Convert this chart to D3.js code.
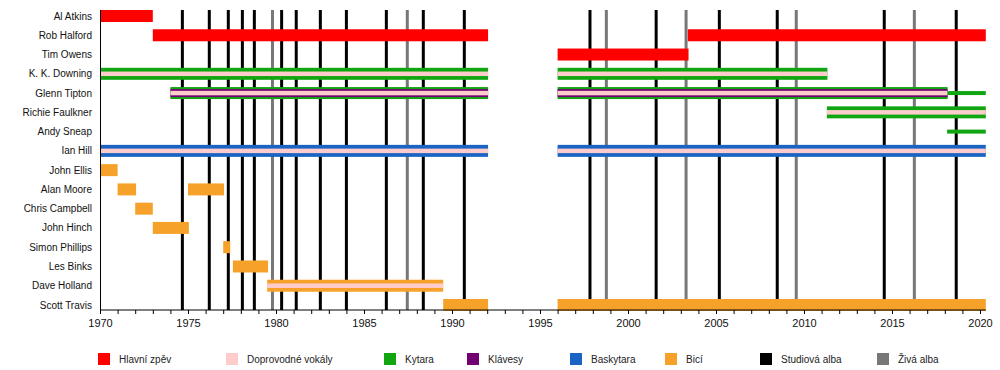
<!DOCTYPE html>
<html>
<head>
<meta charset="utf-8">
<script src="https://cdn.jsdelivr.net/npm/d3@7"></script>
<style>
  body { margin: 0; background: #fff; }
  svg { display: block; font-family: "Liberation Sans", Arial, sans-serif; }
</style>
</head>
<body>
<svg id="chart" width="1000" height="370"></svg>
<script>
// členové kapely (pořadí řádků)
var members = ["Al Atkins", "Rob Halford", "Tim Owens", "K. K. Downing", "Glenn Tipton",
  "Richie Faulkner", "Andy Sneap", "Ian Hill", "John Ellis", "Alan Moore", "Chris Campbell",
  "John Hinch", "Simon Phillips", "Les Binks", "Dave Holland", "Scott Travis"];

// hlavní pruhy: [člen, od, do, role]
var mainBars = [
  ["Al Atkins", 1970, 1973, "vox"],
  ["Rob Halford", 1973, 1992.05, "vox"],
  ["Rob Halford", 2003.4, 2020.33, "vox"],
  ["Tim Owens", 1996, 2003.44, "vox"],
  ["K. K. Downing", 1970, 1992.05, "gtr"],
  ["K. K. Downing", 1996, 2011.33, "gtr"],
  ["Glenn Tipton", 1974, 1992.05, "gtr"],
  ["Glenn Tipton", 1996, 2018.16, "gtr"],
  ["Richie Faulkner", 2011.3, 2020.33, "gtr"],
  ["Ian Hill", 1970, 1992.05, "bass"],
  ["Ian Hill", 1996, 2020.33, "bass"],
  ["John Ellis", 1970, 1971, "drums"],
  ["Alan Moore", 1971, 1972.05, "drums"],
  ["Alan Moore", 1975, 1977.05, "drums"],
  ["Chris Campbell", 1972, 1973, "drums"],
  ["John Hinch", 1973, 1975.05, "drums"],
  ["Simon Phillips", 1977, 1977.4, "drums"],
  ["Les Binks", 1977.55, 1979.55, "drums"],
  ["Dave Holland", 1979.5, 1989.5, "drums"],
  ["Scott Travis", 1989.5, 1992.05, "drums"],
  ["Scott Travis", 1996, 2020.33, "drums"]
];

// klávesy
var keyBars = [
  ["Glenn Tipton", 1974, 1992.05],
  ["Glenn Tipton", 1996, 2018.16]
];

// doprovodné vokály
var bvocBars = [
  ["K. K. Downing", 1970, 1992.05],
  ["K. K. Downing", 1996, 2011.33],
  ["Glenn Tipton", 1974, 1992.05],
  ["Glenn Tipton", 1996, 2018.16],
  ["Richie Faulkner", 2011.3, 2020.33],
  ["Ian Hill", 1970, 1992.05],
  ["Ian Hill", 1996, 2020.33],
  ["Dave Holland", 1979.5, 1989.5]
];

// tenké pruhy
var thinBars = [
  ["Glenn Tipton", 2018.16, 2020.33, "gtr"],
  ["Andy Sneap", 2018.13, 2020.33, "gtr"]
];

var studioAlbums = [1974.68, 1976.21, 1977.29, 1978.09, 1978.77, 1980.32, 1981.15, 1982.52,
  1984.0, 1986.27, 1988.37, 1990.7, 1997.84, 2001.6, 2005.19, 2008.48, 2014.56, 2018.65];
var liveAlbums = [1979.8, 1987.46, 1998.77, 2003.3, 2009.56, 2016.27];

var legendRoles = ["vox", "bvoc", "gtr", "keys", "bass", "drums", "studio", "live"];
var legendLabels = ["Hlavní zpěv", "Doprovodné vokály", "Kytara", "Klávesy", "Baskytara",
  "Bicí", "Studiová alba", "Živá alba"];
var legendX = [98, 226, 384, 467, 570, 665, 760, 877];

var COLORS = {
  vox: "#ff0000", bvoc: "#ffcccc", gtr: "#11a611", keys: "#730073",
  bass: "#1a64c4", drums: "#f6a22a", studio: "#000000", live: "#777777"
};

var svg = d3.select("#chart");

var x = d3.scaleLinear().domain([1970, 2020.33]).range([100, 985.8]);
var y = d3.scalePoint().domain(members).range([16, 305]);

var TOP = 10, BOTTOM = 310;

// alba (za pruhy)
svg.append("g").selectAll("line")
    .data(studioAlbums.map(function(d){ return {t: d, c: COLORS.studio}; })
      .concat(liveAlbums.map(function(d){ return {t: d, c: COLORS.live}; })))
    .enter()
    .append("line")
    .attr("x1", function(d){ return x(d.t); })
    .attr("x2", function(d){ return x(d.t); })
    .attr("y1", TOP)
    .attr("y2", BOTTOM)
    .attr("stroke", function(d){ return d.c; })
    .attr("stroke-width", 3);

function drawBars(data, h, colorFn) {
    svg.append("g").selectAll("rect")
        .data(data)
        .enter()
        .append("rect")
        .attr("x", function(d){ return x(d[1]); })
        .attr("width", function(d){ return x(d[2]) - x(d[1]); })
        .attr("y", function(d){ return y(d[0]) - h / 2; })
        .attr("height", h)
        .attr("fill", colorFn);
}

drawBars(mainBars, 12, function(d){ return COLORS[d[3]]; });
drawBars(keyBars, 8, function(d){ return COLORS.keys; });
drawBars(bvocBars, 4.5, function(d){ return COLORS.bvoc; });
drawBars(thinBars, 4, function(d){ return COLORS[d[3]]; });

// jména
svg.append("g").selectAll("text")
    .data(members)
    .enter()
    .append("text")
    .attr("x", 92)
    .attr("y", function(d){ return y(d) + 3.5; })
    .attr("text-anchor", "end")
    .attr("font-size", 10)
    .attr("fill", "#111")
    .text(function(d){ return d; });

// osa
var axis = d3.axisBottom(x)
    .tickValues(d3.range(1970, 2021))
    .tickSize(4)
    .tickFormat(function(d){ return d % 5 == 0 ? d : ""; });

var gAxis = svg.append("g")
    .attr("transform", "translate(0," + BOTTOM + ")")
    .call(axis);
gAxis.select(".domain").attr("d", "M100,0H" + x(2020.33)).attr("stroke", "#000");
gAxis.selectAll(".tick line").attr("stroke", "#000");
gAxis.selectAll(".tick text")
    .attr("font-size", 11)
    .attr("font-family", "Liberation Sans, Arial, sans-serif")
    .attr("fill", "#111")
    .attr("dy", "0.95em");

// levá hrana
svg.append("line")
    .attr("x1", 100.5).attr("x2", 100.5)
    .attr("y1", TOP).attr("y2", BOTTOM)
    .attr("stroke", "#000").attr("stroke-width", 1);

// legenda
var leg = svg.append("g").selectAll("g")
    .data(legendRoles)
    .enter()
    .append("g")
    .attr("transform", function(d, i){ return "translate(" + legendX[i] + ",353)"; });

leg.append("rect")
    .attr("width", 12)
    .attr("height", 12)
    .attr("fill", function(d){ return COLORS[d]; });

leg.append("text")
    .attr("x", 21)
    .attr("y", 10)
    .attr("font-size", 10)
    .attr("fill", "#222")
    .text(function(d, i){ return legendLabels[i]; });
</script>
</body>
</html>
